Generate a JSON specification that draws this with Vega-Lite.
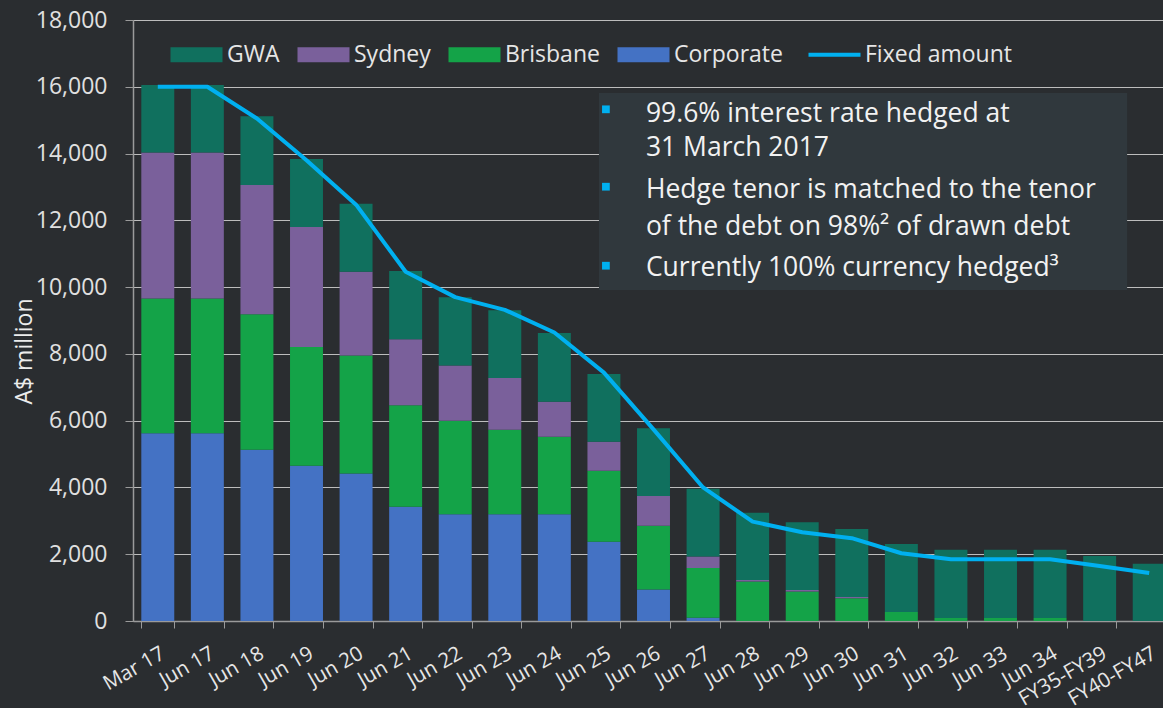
{
  "$schema": "https://vega.github.io/schema/vega-lite/v6.json",
  "width": 1030,
  "height": 601,
  "autosize": {"type": "none"},
  "padding": {"left": 133, "top": 20, "right": 0, "bottom": 87},
  "background": "#2a2d30",
  "config": {
    "font": "Open Sans",
    "view": {"stroke": null},
    "axis": {"labelFont": "Open Sans", "titleFont": "Open Sans"}
  },
  "datasets": {
    "bars": [
      {"cat": "Mar 17", "series": "Corporate", "ord": 1, "value": 5620},
      {"cat": "Mar 17", "series": "Brisbane", "ord": 2, "value": 4040},
      {"cat": "Mar 17", "series": "Sydney", "ord": 3, "value": 4370},
      {"cat": "Mar 17", "series": "GWA", "ord": 4, "value": 2020},
      {"cat": "Jun 17", "series": "Corporate", "ord": 1, "value": 5620},
      {"cat": "Jun 17", "series": "Brisbane", "ord": 2, "value": 4040},
      {"cat": "Jun 17", "series": "Sydney", "ord": 3, "value": 4370},
      {"cat": "Jun 17", "series": "GWA", "ord": 4, "value": 2020},
      {"cat": "Jun 18", "series": "Corporate", "ord": 1, "value": 5130},
      {"cat": "Jun 18", "series": "Brisbane", "ord": 2, "value": 4055},
      {"cat": "Jun 18", "series": "Sydney", "ord": 3, "value": 3873},
      {"cat": "Jun 18", "series": "GWA", "ord": 4, "value": 2057},
      {"cat": "Jun 19", "series": "Corporate", "ord": 1, "value": 4650},
      {"cat": "Jun 19", "series": "Brisbane", "ord": 2, "value": 3555},
      {"cat": "Jun 19", "series": "Sydney", "ord": 3, "value": 3595},
      {"cat": "Jun 19", "series": "GWA", "ord": 4, "value": 2035},
      {"cat": "Jun 20", "series": "Corporate", "ord": 1, "value": 4420},
      {"cat": "Jun 20", "series": "Brisbane", "ord": 2, "value": 3535},
      {"cat": "Jun 20", "series": "Sydney", "ord": 3, "value": 2505},
      {"cat": "Jun 20", "series": "GWA", "ord": 4, "value": 2035},
      {"cat": "Jun 21", "series": "Corporate", "ord": 1, "value": 3420},
      {"cat": "Jun 21", "series": "Brisbane", "ord": 2, "value": 3045},
      {"cat": "Jun 21", "series": "Sydney", "ord": 3, "value": 1970},
      {"cat": "Jun 21", "series": "GWA", "ord": 4, "value": 2045},
      {"cat": "Jun 22", "series": "Corporate", "ord": 1, "value": 3200},
      {"cat": "Jun 22", "series": "Brisbane", "ord": 2, "value": 2795},
      {"cat": "Jun 22", "series": "Sydney", "ord": 3, "value": 1660},
      {"cat": "Jun 22", "series": "GWA", "ord": 4, "value": 2045},
      {"cat": "Jun 23", "series": "Corporate", "ord": 1, "value": 3200},
      {"cat": "Jun 23", "series": "Brisbane", "ord": 2, "value": 2525},
      {"cat": "Jun 23", "series": "Sydney", "ord": 3, "value": 1555},
      {"cat": "Jun 23", "series": "GWA", "ord": 4, "value": 2030},
      {"cat": "Jun 24", "series": "Corporate", "ord": 1, "value": 3200},
      {"cat": "Jun 24", "series": "Brisbane", "ord": 2, "value": 2315},
      {"cat": "Jun 24", "series": "Sydney", "ord": 3, "value": 1050},
      {"cat": "Jun 24", "series": "GWA", "ord": 4, "value": 2060},
      {"cat": "Jun 25", "series": "Corporate", "ord": 1, "value": 2375},
      {"cat": "Jun 25", "series": "Brisbane", "ord": 2, "value": 2125},
      {"cat": "Jun 25", "series": "Sydney", "ord": 3, "value": 870},
      {"cat": "Jun 25", "series": "GWA", "ord": 4, "value": 2025},
      {"cat": "Jun 26", "series": "Corporate", "ord": 1, "value": 940},
      {"cat": "Jun 26", "series": "Brisbane", "ord": 2, "value": 1915},
      {"cat": "Jun 26", "series": "Sydney", "ord": 3, "value": 890},
      {"cat": "Jun 26", "series": "GWA", "ord": 4, "value": 2030},
      {"cat": "Jun 27", "series": "Corporate", "ord": 1, "value": 100},
      {"cat": "Jun 27", "series": "Brisbane", "ord": 2, "value": 1490},
      {"cat": "Jun 27", "series": "Sydney", "ord": 3, "value": 340},
      {"cat": "Jun 27", "series": "GWA", "ord": 4, "value": 2030},
      {"cat": "Jun 28", "series": "Corporate", "ord": 1, "value": 0},
      {"cat": "Jun 28", "series": "Brisbane", "ord": 2, "value": 1180},
      {"cat": "Jun 28", "series": "Sydney", "ord": 3, "value": 50},
      {"cat": "Jun 28", "series": "GWA", "ord": 4, "value": 2015},
      {"cat": "Jun 29", "series": "Corporate", "ord": 1, "value": 0},
      {"cat": "Jun 29", "series": "Brisbane", "ord": 2, "value": 880},
      {"cat": "Jun 29", "series": "Sydney", "ord": 3, "value": 50},
      {"cat": "Jun 29", "series": "GWA", "ord": 4, "value": 2025},
      {"cat": "Jun 30", "series": "Corporate", "ord": 1, "value": 0},
      {"cat": "Jun 30", "series": "Brisbane", "ord": 2, "value": 680},
      {"cat": "Jun 30", "series": "Sydney", "ord": 3, "value": 40},
      {"cat": "Jun 30", "series": "GWA", "ord": 4, "value": 2035},
      {"cat": "Jun 31", "series": "Corporate", "ord": 1, "value": 0},
      {"cat": "Jun 31", "series": "Brisbane", "ord": 2, "value": 270},
      {"cat": "Jun 31", "series": "Sydney", "ord": 3, "value": 0},
      {"cat": "Jun 31", "series": "GWA", "ord": 4, "value": 2035},
      {"cat": "Jun 32", "series": "Corporate", "ord": 1, "value": 0},
      {"cat": "Jun 32", "series": "Brisbane", "ord": 2, "value": 90},
      {"cat": "Jun 32", "series": "Sydney", "ord": 3, "value": 0},
      {"cat": "Jun 32", "series": "GWA", "ord": 4, "value": 2045},
      {"cat": "Jun 33", "series": "Corporate", "ord": 1, "value": 0},
      {"cat": "Jun 33", "series": "Brisbane", "ord": 2, "value": 90},
      {"cat": "Jun 33", "series": "Sydney", "ord": 3, "value": 0},
      {"cat": "Jun 33", "series": "GWA", "ord": 4, "value": 2045},
      {"cat": "Jun 34", "series": "Corporate", "ord": 1, "value": 0},
      {"cat": "Jun 34", "series": "Brisbane", "ord": 2, "value": 90},
      {"cat": "Jun 34", "series": "Sydney", "ord": 3, "value": 0},
      {"cat": "Jun 34", "series": "GWA", "ord": 4, "value": 2045},
      {"cat": "FY35-FY39", "series": "Corporate", "ord": 1, "value": 0},
      {"cat": "FY35-FY39", "series": "Brisbane", "ord": 2, "value": 0},
      {"cat": "FY35-FY39", "series": "Sydney", "ord": 3, "value": 0},
      {"cat": "FY35-FY39", "series": "GWA", "ord": 4, "value": 1945},
      {"cat": "FY40-FY47", "series": "Corporate", "ord": 1, "value": 0},
      {"cat": "FY40-FY47", "series": "Brisbane", "ord": 2, "value": 0},
      {"cat": "FY40-FY47", "series": "Sydney", "ord": 3, "value": 0},
      {"cat": "FY40-FY47", "series": "GWA", "ord": 4, "value": 1715}
    ],
    "fixed": [
      {"cat": "Mar 17", "fixed": 16000},
      {"cat": "Jun 17", "fixed": 16000},
      {"cat": "Jun 18", "fixed": 15050},
      {"cat": "Jun 19", "fixed": 13800},
      {"cat": "Jun 20", "fixed": 12470},
      {"cat": "Jun 21", "fixed": 10460},
      {"cat": "Jun 22", "fixed": 9700},
      {"cat": "Jun 23", "fixed": 9320},
      {"cat": "Jun 24", "fixed": 8640},
      {"cat": "Jun 25", "fixed": 7440},
      {"cat": "Jun 26", "fixed": 5740},
      {"cat": "Jun 27", "fixed": 4000},
      {"cat": "Jun 28", "fixed": 2975},
      {"cat": "Jun 29", "fixed": 2660},
      {"cat": "Jun 30", "fixed": 2480},
      {"cat": "Jun 31", "fixed": 2030},
      {"cat": "Jun 32", "fixed": 1850},
      {"cat": "Jun 33", "fixed": 1850},
      {"cat": "Jun 34", "fixed": 1850},
      {"cat": "FY35-FY39", "fixed": 1650},
      {"cat": "FY40-FY47", "fixed": 1440}
    ],
    "box": [
      {"c1": "Jun 25", "c2": "FY40-FY47", "top": 15813, "bottom": 9913}
    ],
    "bullets": [
      {"cat": "Jun 25", "y": 15325},
      {"cat": "Jun 25", "y": 13007},
      {"cat": "Jun 25", "y": 10641}
    ],
    "notes": [
      {"cat": "Jun 26", "y": 14954, "text": "99.6% interest rate hedged at"},
      {"cat": "Jun 26", "y": 13926, "text": "31 March 2017"},
      {"cat": "Jun 26", "y": 12659, "text": "Hedge tenor is matched to the tenor"},
      {"cat": "Jun 26", "y": 11560, "text": "of the debt on 98%² of drawn debt"},
      {"cat": "Jun 26", "y": 10332, "text": "Currently 100% currency hedged³"}
    ]
  },
  "encoding": {
    "x": {
      "field": "cat",
      "type": "nominal",
      "sort": null,
      "scale": {
        "domain": ["Mar 17", "Jun 17", "Jun 18", "Jun 19", "Jun 20", "Jun 21", "Jun 22", "Jun 23", "Jun 24", "Jun 25", "Jun 26", "Jun 27", "Jun 28", "Jun 29", "Jun 30", "Jun 31", "Jun 32", "Jun 33", "Jun 34", "FY35-FY39", "FY40-FY47"],
        "range": [0, 1041],
        "paddingInner": 0.335,
        "paddingOuter": 0.1675
      },
      "axis": {
        "title": null,
        "labelAngle": -30,
        "labelAlign": "right",
        "labelBaseline": "top",
        "labelPadding": 15,
        "labelFontSize": 20.5,
        "labelColor": "#e6e6e6",
        "tickBand": "extent",
        "tickColor": "#9a9a9a",
        "tickSize": 7,
        "domainColor": "#9a9a9a",
        "domainWidth": 1.5,
        "grid": false,
        "labelOverlap": false
      }
    }
  },
  "layer": [
    {
      "data": {"name": "bars"},
      "mark": {"type": "bar", "clip": false},
      "encoding": {
        "y": {
          "field": "value",
          "type": "quantitative",
          "stack": "zero",
          "scale": {"domain": [0, 18000], "nice": false},
          "axis": {
            "title": "A$ million",
            "titleFontSize": 23,
            "titleFontWeight": "normal",
            "titleColor": "#ececec",
            "titleX": -97,
            "titleY": 331,
            "titleAngle": -90,
            "values": [0, 2000, 4000, 6000, 8000, 10000, 12000, 14000, 16000, 18000],
            "format": ",.0f",
            "labelFontSize": 23,
            "labelColor": "#e0e0e0",
            "labelPadding": 18,
            "tickSize": 8,
            "tickColor": "#9a9a9a",
            "domainColor": "#9a9a9a",
            "domainWidth": 1.5,
            "grid": true,
            "gridColor": "#bdbdbd",
            "gridWidth": 1.2
          }
        },
        "color": {
          "field": "series",
          "type": "nominal",
          "scale": {
            "domain": ["GWA", "Sydney", "Brisbane", "Corporate", "Fixed amount"],
            "range": ["#10705e", "#7a609b", "#14a348", "#4472c4", "#00b0f0"]
          },
          "legend": {
            "title": null,
            "orient": "none",
            "direction": "horizontal",
            "legendX": 52,
            "legendY": 23,
            "labelFontSize": 23,
            "labelColor": "#e6e6e6",
            "labelFont": "Open Sans",
            "symbolSize": 2704,
            "symbolType": "M-1,-0.29H1V0.29H-1Z",
            "labelOffset": 19,
            "columnPadding": 17,
            "padding": 0,
            "encode": {
              "symbols": {
                "update": {
                  "shape": {"signal": "datum.value === 'Fixed amount' ? 'M-1,0H1' : 'M-1,-0.29H1V0.29H-1Z'"},
                  "fill": {"signal": "datum.value === 'Fixed amount' ? 'transparent' : scale('color', datum.value)"},
                  "stroke": {"signal": "datum.value === 'Fixed amount' ? '#00b0f0' : 'transparent'"},
                  "strokeWidth": {"signal": "datum.value === 'Fixed amount' ? 4 : 0"},
                  "opacity": {"value": 1}
                }
              }
            }
          }
        },
        "order": {"field": "ord", "type": "quantitative"}
      }
    },
    {
      "data": {"name": "fixed"},
      "mark": {"type": "line", "color": "#00b0f0", "strokeWidth": 4, "strokeJoin": "round"},
      "encoding": {
        "y": {"field": "fixed", "type": "quantitative"}
      }
    },
    {
      "data": {"name": "box"},
      "mark": {"type": "rect", "fill": "#30383d"},
      "encoding": {
        "x": {"field": "c1", "type": "nominal", "bandPosition": 0.35},
        "x2": {"field": "c2", "bandPosition": -0.17},
        "y": {"field": "top", "type": "quantitative"},
        "y2": {"field": "bottom"}
      }
    },
    {
      "data": {"name": "bullets"},
      "mark": {"type": "point", "shape": "square", "filled": true, "size": 60, "color": "#00b0f0", "opacity": 1},
      "encoding": {
        "x": {"field": "cat", "type": "nominal", "bandPosition": 0.56},
        "y": {"field": "y", "type": "quantitative"}
      }
    },
    {
      "data": {"name": "notes"},
      "mark": {"type": "text", "align": "left", "baseline": "alphabetic", "fontSize": 26.5, "color": "#f2f2f2", "font": "Open Sans"},
      "encoding": {
        "x": {"field": "cat", "type": "nominal", "bandPosition": 0.27},
        "y": {"field": "y", "type": "quantitative"},
        "text": {"field": "text"}
      }
    }
  ]
}
